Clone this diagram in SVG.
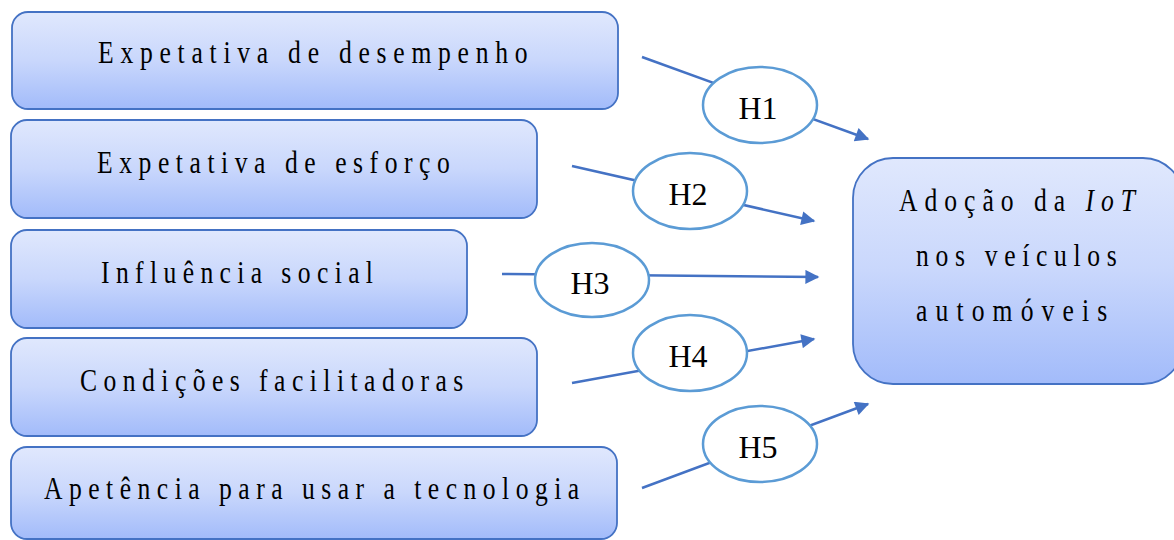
<svg xmlns="http://www.w3.org/2000/svg" width="1174" height="540" viewBox="0 0 1174 540">
<defs>
<linearGradient id="g" x1="0" y1="0" x2="0" y2="1">
<stop offset="0" stop-color="#e0e8fd"/>
<stop offset="0.5" stop-color="#c9d7fc"/>
<stop offset="1" stop-color="#a2bbfa"/>
</linearGradient>
<marker id="a" viewBox="0 0 10 10" refX="9" refY="5" markerWidth="18" markerHeight="14" orient="auto" markerUnits="userSpaceOnUse">
<path d="M0,0 L10,5 L0,10 z" fill="#4472c4"/>
</marker>
</defs>
<style>
.box{fill:url(#g);stroke:#4472c4;stroke-width:1.8}
.e{fill:#fff;stroke:#5b9bd5;stroke-width:2.5}
.c{stroke:#4472c4;stroke-width:2.5;fill:none;marker-end:url(#a)}
text{font-family:'Liberation Serif','Times New Roman',serif;font-size:32px;fill:#000}
</style>
<g id="connectors">
<line class="c" x1="642" y1="57" x2="868" y2="139"/>
<line class="c" x1="572" y1="166" x2="814" y2="221"/>
<line class="c" x1="502" y1="274" x2="818" y2="277"/>
<line class="c" x1="572" y1="383" x2="814" y2="339"/>
<line class="c" x1="642" y1="488" x2="868" y2="404"/>
</g>
<g id="n1"><rect class="box" x="12" y="12" width="606" height="97" rx="16"/><text transform="translate(98,63) scale(0.8,1)" textLength="537" lengthAdjust="spacing">Expetativa de desempenho</text></g>
<g id="n2"><rect class="box" x="11" y="120" width="526" height="98" rx="16"/><text transform="translate(97,173) scale(0.8,1)" textLength="441" lengthAdjust="spacing">Expetativa de esforço</text></g>
<g id="n3"><rect class="box" x="11" y="230" width="456" height="98" rx="16"/><text transform="translate(101,283) scale(0.8,1)" textLength="340" lengthAdjust="spacing">Influência social</text></g>
<g id="n4"><rect class="box" x="11" y="338" width="526" height="98" rx="16"/><text transform="translate(80,391) scale(0.8,1)" textLength="479" lengthAdjust="spacing">Condições facilitadoras</text></g>
<g id="n5"><rect class="box" x="11" y="447" width="606" height="92" rx="16"/><text transform="translate(44,499) scale(0.8,1)" textLength="669" lengthAdjust="spacing">Apetência para usar a tecnologia</text></g>
<g id="target"><rect class="box" x="853" y="158" width="330" height="226" rx="40"/>
<text transform="translate(899,211) scale(0.8,1)" textLength="295" lengthAdjust="spacing">Adoção da <tspan font-style="italic">IoT</tspan></text>
<text transform="translate(916,266) scale(0.8,1)" textLength="251" lengthAdjust="spacing">nos veículos</text>
<text transform="translate(916,321) scale(0.8,1)" textLength="239" lengthAdjust="spacing">automóveis</text>
</g>
<g id="h1"><ellipse class="e" cx="760" cy="105" rx="57" ry="38"/><text x="758" y="119" text-anchor="middle">H1</text></g>
<g id="h2"><ellipse class="e" cx="690" cy="191" rx="57" ry="38"/><text x="688" y="205" text-anchor="middle">H2</text></g>
<g id="h3"><ellipse class="e" cx="592" cy="280" rx="57" ry="37"/><text x="590" y="294" text-anchor="middle">H3</text></g>
<g id="h4"><ellipse class="e" cx="690" cy="353" rx="57" ry="38"/><text x="688" y="367" text-anchor="middle">H4</text></g>
<g id="h5"><ellipse class="e" cx="760" cy="444" rx="57" ry="38"/><text x="758" y="458" text-anchor="middle">H5</text></g>
</svg>
